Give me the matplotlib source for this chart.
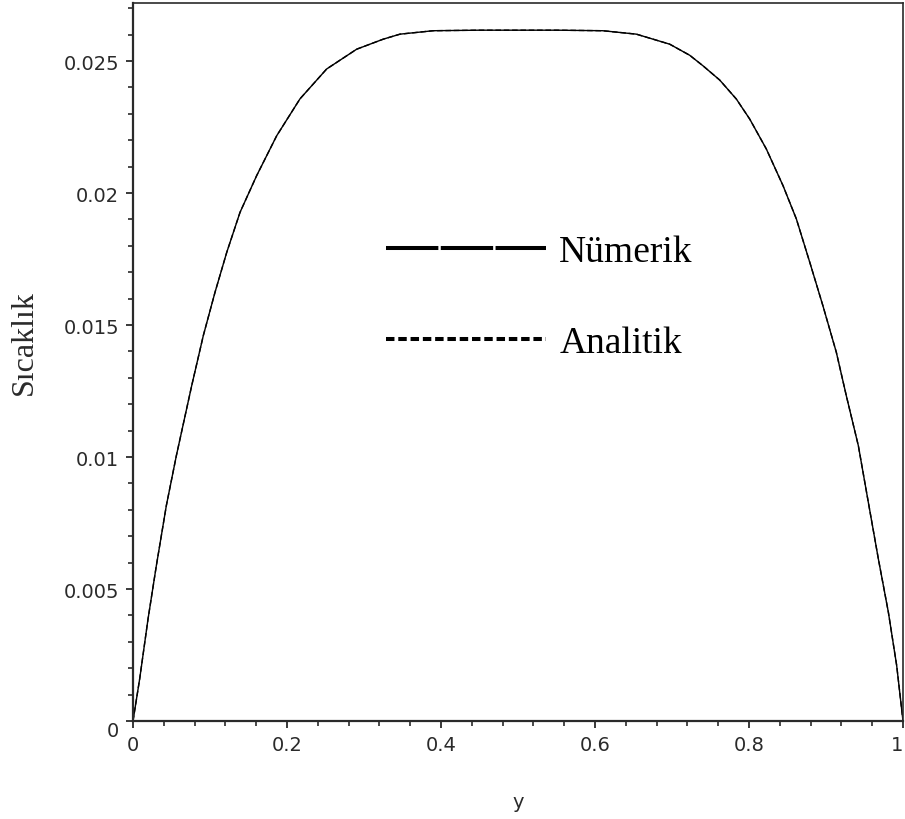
import matplotlib
matplotlib.use("Agg")
import matplotlib.pyplot as plt
from matplotlib.lines import Line2D
from matplotlib.ticker import MultipleLocator

# values (both solutions lie on top of each other)
y_konum = [0.0, 0.0087, 0.0195, 0.0303, 0.0433, 0.0563, 0.0762, 0.0913,
           0.1065, 0.1217, 0.139, 0.1606, 0.1866, 0.2169, 0.2515, 0.2905,
           0.325, 0.3468, 0.39, 0.45, 0.5, 0.55, 0.61, 0.6537, 0.697, 0.723,
           0.7403, 0.762, 0.7836, 0.801, 0.8225, 0.8442, 0.8615, 0.879,
           0.896, 0.9134, 0.9264, 0.942, 0.955, 0.968, 0.981, 0.9918, 1.0]
sicaklik_numerik = [0.0, 0.0016, 0.00386, 0.00588, 0.00816, 0.01005, 0.0127,
                    0.0146, 0.01624, 0.01775, 0.01927, 0.02066, 0.02217,
                    0.02357, 0.0247, 0.02545, 0.02583, 0.02602, 0.02615,
                    0.02617, 0.02617, 0.02617, 0.02615, 0.02602, 0.02564,
                    0.02522, 0.02482, 0.02428, 0.02356, 0.0228, 0.02167,
                    0.02028, 0.01902, 0.01737, 0.01573, 0.01397, 0.01232,
                    0.01043, 0.00828, 0.00614, 0.00412, 0.0021, 0.0]
sicaklik_analitik = list(sicaklik_numerik)

x_ticks = [0, 0.2, 0.4, 0.6, 0.8, 1]
x_labels = ["0", "0.2", "0.4", "0.6", "0.8", "1"]
y_ticks = [0, 0.005, 0.01, 0.015, 0.02, 0.025]
y_labels = ["0", "0.005", "0.01", "0.015", "0.02", "0.025"]

tick_font = ["Liberation Sans Narrow", "DejaVu Sans"]
serif_font = ["Liberation Serif", "DejaVu Serif"]
eksen_renk = "#2a2a2a"

fig = plt.figure(figsize=(9.05, 8.2), dpi=100)
ax = fig.add_axes([133 / 905, 1 - 722 / 820, 770 / 905, 718 / 820])

ax.plot(y_konum, sicaklik_numerik, color="black", linewidth=1.0)
ax.plot(y_konum, sicaklik_analitik, color="black", linewidth=1.0,
        linestyle=(0, (4, 2)))

ax.set_xlim(0, 1)
ax.set_ylim(0, 0.0272)

ax.set_xticks(x_ticks)
ax.set_xticklabels(x_labels, family=tick_font, fontsize=14)
ax.set_yticks(y_ticks)
ax.set_yticklabels(y_labels, family=tick_font, fontsize=14)
ax.xaxis.set_minor_locator(MultipleLocator(0.04))
ax.yaxis.set_minor_locator(MultipleLocator(0.001))

ax.tick_params(which="major", direction="out", length=5, width=1.3,
               color=eksen_renk, labelcolor=eksen_renk, pad=5)
ax.tick_params(which="minor", direction="out", length=3.5, width=1.2,
               color=eksen_renk)
ax.tick_params(top=False, right=False, which="both")

for side in ["left", "bottom"]:
    ax.spines[side].set_linewidth(1.6)
    ax.spines[side].set_color(eksen_renk)
for side in ["top", "right"]:
    ax.spines[side].set_linewidth(1.2)
    ax.spines[side].set_color(eksen_renk)

ax.set_xlabel("y", family=tick_font, fontsize=14, color=eksen_renk)
ax.xaxis.set_label_coords(0.5, -0.099)
ax.set_ylabel("Sıcaklık", family=serif_font, fontsize=23, color=eksen_renk)
ax.yaxis.set_label_coords(-0.122, 0.529)

# Maple-style: the "0" on the y axis hangs below the origin
ax.get_yticklabels()[0].set_verticalalignment("top")
# keep the "1" inside the picture
ax.get_xticklabels()[-1].set_horizontalalignment("right")

legend_elements = [
    Line2D([0], [0], color="black", linewidth=2.9, dashes=(13, 0.6),
           dash_capstyle="butt", label="Nümerik"),
    Line2D([0], [0], color="black", linewidth=2.9, dashes=(2.1, 0.95),
           dash_capstyle="butt", label="Analitik"),
]
ax.legend(handles=legend_elements, loc="upper left",
          bbox_to_anchor=(0.3286, 0.6776), frameon=False, borderpad=0,
          borderaxespad=0, handlelength=4.27, handletextpad=0.35,
          labelspacing=1.5, prop={"family": serif_font, "size": 27})

plt.savefig("out.png", dpi=100)
